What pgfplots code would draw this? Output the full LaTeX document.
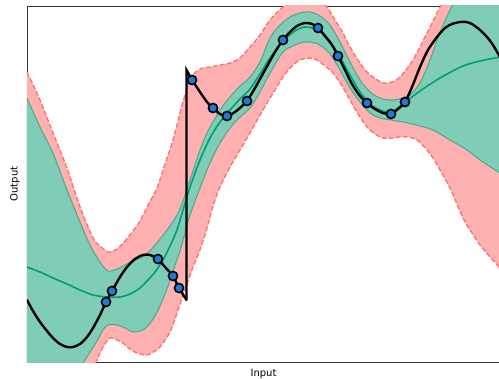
\documentclass[border=0pt]{standalone}
\usepackage{pgfplots}
\usepackage{pgfplotstable}
\pgfplotsset{compat=1.18}
\usepgfplotslibrary{fillbetween}
\usepackage{fontspec}
\setmainfont{DejaVu Sans}
\definecolor{pinkfill}{RGB}{255,176,176}
\definecolor{pinkedge}{RGB}{255,112,112}
\definecolor{greenfill}{RGB}{128,205,183}
\definecolor{greenedge}{RGB}{80,170,138}
\definecolor{meangreen}{RGB}{0,158,115}
\definecolor{ptblue}{RGB}{30,122,216}

% pink band, upper edge
\pgfplotstableread{
x y
27 72
40 100
53 133
67 168
80 207
93 238
100 246
108 252
117 249
125 241
133 231
140 221
147 207
157 188
165 164
173 140
180 113
185 95
190 79
197 71
203 68
210 67
220 65
230 63
240 58
250 47
260 35
270 20
283 7
295 0
305 -3
318 0
327 7
335 20
343 33
350 47
360 63
367 72
373 77
383 83
392 82
400 77
413 60
427 33
440 7
447 -8
463 -40
480 -70
500 -100
}\tpu
% pink band, lower edge
\pgfplotstableread{
x y
27 462
40 444
53 423
67 402
80 385
90 374
97 360
103 347
110 338
117 340
123 343
130 349
137 353
147 355
155 351
160 347
170 332
177 313
185 290
193 267
200 250
207 228
213 206
220 187
230 167
240 150
250 133
260 115
267 103
275 90
283 77
292 66
300 60
310 58
317 60
325 66
333 73
342 86
350 100
358 114
367 127
375 134
383 138
392 138
400 137
408 137
417 140
427 150
433 158
440 170
450 188
463 218
472 233
480 245
490 257
500 268
}\tpl
% green band, upper edge
\pgfplotstableread{
x y
27 98
40 127
53 153
67 190
80 222
90 245
100 262
108 271
117 269
125 265
133 261
143 257
150 251
160 239
170 226
177 215
183 201
188 186
195 165
200 150
207 133
220 110
230 97
240 86
250 77
260 62
270 38
280 25
290 17
300 13
310 12
320 16
330 25
340 42
350 62
360 80
370 92
380 98
390 100
400 99
410 95
420 83
430 60
440 32
450 10
455 0
463 -15
480 -40
500 -62
}\tgu
% green band, lower edge
\pgfplotstableread{
x y
27 436
40 417
53 400
67 383
83 363
90 352
97 341
103 330
108 325
117 325
125 328
133 332
140 331
147 327
155 316
160 306
167 289
173 271
180 251
185 233
190 215
200 188
210 163
220 143
230 128
240 117
250 108
260 92
270 73
283 52
295 45
305 42
318 44
330 54
340 70
350 88
360 102
370 113
380 118
391 120
403 122
420 126
433 130
450 140
467 150
480 160
500 173
}\tgl
% mean
\pgfplotstableread{
x y
27 267
40 272
53 278
67 284
80 290
93 295
107 297
120 297
130 294
140 288
147 281
155 272
163 260
170 246
177 230
183 210
190 187
200 160
210 138
220 122
230 110
240 99
250 89
260 74
270 58
283 41
295 31
305 27
318 30
330 42
340 57
350 75
360 92
370 104
380 110
391 112
403 104
420 91
440 78
463 66
480 61
500 57
}\tmean
% true function, left part
\pgfplotstableread{
x y
27 300
33 311
40 322
47 331
53 338
60 344
67 347
73 347
80 344
87 337
93 328
100 315
106 302
112 291
120 277
127 267
135 259
143 255
150 255
158 259
165 267
173 276
179 288
186.5 300
}\tblackA
% true function, right part
\pgfplotstableread{
x y
192 80
200 92
207 102
213 108
220 114
227 116
235 112
241 107
247 101
255 88
265 70
275 52
283 40
290 32
297 26
305 23
312 24
318 28
325 36
332 45
338 56
345 70
352 84
360 96
367 103
375 109
383 113
391 114
398 109
405 102
412 87
420 67
428 50
437 37
445 28
452 24
460 22
466 22
472 24
480 30
487 37
493 45
500 57
}\tblackC

\begin{document}
\begin{tikzpicture}
\begin{axis}[
  scale only axis, width=354.75pt, height=267pt,
  xmin=27, xmax=500, ymin=6, ymax=362, y dir=reverse,
  xtick=\empty, ytick=\empty,
  axis line style={black!80, line width=0.6pt},
  xlabel={Input}, ylabel={Output},
  label style={font=\fontsize{7.5}{9}\selectfont},
  xlabel style={at={(axis description cs:0.5,-0.0197)}, anchor=north, inner sep=0pt},
  ylabel style={at={(axis description cs:-0.0148,0.5)}, anchor=south, inner sep=0pt},
]
\addplot[draw=none, smooth, name path=PU] table {\tpu};
\addplot[draw=none, smooth, name path=PL] table {\tpl};
\addplot[pinkfill, draw=none] fill between[of=PU and PL];
\addplot[pinkedge, smooth, line width=1pt, dash pattern=on 3.7pt off 1.6pt] table {\tpu};
\addplot[pinkedge, smooth, line width=1pt, dash pattern=on 3.7pt off 1.6pt] table {\tpl};

\addplot[draw=none, smooth, name path=GU] table {\tgu};
\addplot[draw=none, smooth, name path=GL] table {\tgl};
\addplot[greenfill, draw=none] fill between[of=GU and GL];
\addplot[greenedge, smooth, line width=0.8pt] table {\tgu};
\addplot[greenedge, smooth, line width=0.8pt] table {\tgl};

\addplot[meangreen, smooth, line width=1.2pt] table {\tmean};

\addplot[black, smooth, line width=1.8pt, line cap=round] table {\tblackA};
\addplot[black, line width=1.8pt, line join=miter] coordinates {(186.5,300) (186.5,70) (192,80)};
\addplot[black, smooth, line width=1.8pt, line cap=round] table {\tblackC};

\addplot[only marks, mark=*, mark size=3.4pt, mark options={fill=ptblue, draw=black, line width=1.2pt}] coordinates {
(106,302) (112,291) (158,259) (173,276) (179,288) (192,80) (213,108) (227,116) (247,101) (283,40) (318,28) (338,56) (367,103) (391,114) (405,102)
};
\end{axis}
\pgfresetboundingbox
\path[use as bounding box] ([xshift=-20.25pt,yshift=-12pt]current axis.south west) rectangle ([xshift=-0.75pt,yshift=4.5pt]current axis.north east);
\end{tikzpicture}
\end{document}
